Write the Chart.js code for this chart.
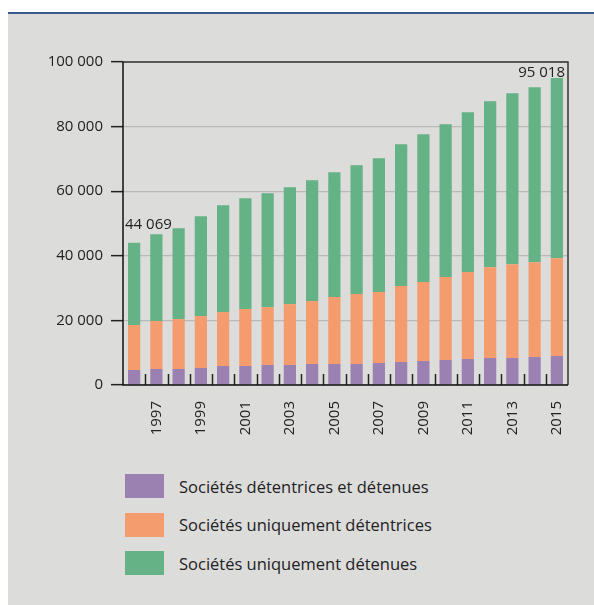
<!DOCTYPE html>
<html lang="fr">
<head>
<meta charset="utf-8">
<script src="https://cdn.jsdelivr.net/npm/chart.js@4/dist/chart.umd.min.js"></script>
<style>
  html, body { margin: 0; padding: 0; background: #fff; }
  body { width: 594px; height: 605px; position: relative; overflow: hidden; font-family: "Open Sans", sans-serif; }
  .topline { position: absolute; left: 8px; top: 12px; width: 586px; height: 2px; background: #3b5b8e; }
  .panel { position: absolute; left: 8px; top: 14px; width: 586px; height: 591px; background: #dcdcdb; }
  #chart { position: absolute; left: 8px; top: 14px; }
  .legend { position: absolute; left: 125px; top: 474px; }
  .legend-item { display: flex; align-items: center; height: 24px; margin-bottom: 14.5px; }
  .legend-item span.box { width: 39px; height: 24px; margin-right: 15px; }
  .legend-item span.txt { font-size: 16.5px; color: #222; }
</style>
</head>
<body>
<div class="topline"></div>
<div class="panel"></div>
<canvas id="chart" width="586" height="446"></canvas>
<div class="legend" id="legend"></div>

<script>
const years = [1996, 1997, 1998, 1999, 2000, 2001, 2002, 2003, 2004, 2005,
               2006, 2007, 2008, 2009, 2010, 2011, 2012, 2013, 2014, 2015];

const detentricesEtDetenues = [4640, 4950, 4950, 5260, 5880, 5880, 6190, 6190, 6500, 6500,
                               6500, 6800, 7110, 7420, 7730, 8040, 8350, 8350, 8660, 8970];
const uniquementDetentrices = [13920, 14840, 15460, 16080, 16700, 17630, 17930, 18860, 19480, 20720,
                               21640, 21960, 23510, 24440, 25670, 26910, 28140, 29070, 29380, 30310];
const uniquementDetenues = [25509, 26910, 28150, 30930, 33090, 34320, 35260, 36190, 37420, 38660,
                            39900, 41440, 43920, 45770, 47320, 49480, 51340, 52890, 54120, 55738];

const seriesNames = ['Sociétés détentrices et détenues', 'Sociétés uniquement détentrices', 'Sociétés uniquement détenues'];
const seriesColors = ['#9b80b2', '#f49c6e', '#66b287'];

const yTicks = [0, 20000, 40000, 60000, 80000, 100000];

const fmt = v => String(Math.round(v)).replace(/\B(?=(\d{3})+(?!\d))/g, ' ');

const totals = years.map((y, i) => detentricesEtDetenues[i] + uniquementDetentrices[i] + uniquementDetenues[i]);

// cadre, petits repères entre les barres et totaux de début / fin
const decorPlugin = {
  id: 'decor',
  afterDatasetsDraw(chart) {
    const { ctx, chartArea: a, scales: { x } } = chart;
    ctx.save();
    ctx.strokeStyle = '#222';
    ctx.lineWidth = 1.5;
    for (let i = 1; i < years.length; i++) {
      const px = Math.round((x.getPixelForValue(i - 1) + x.getPixelForValue(i)) / 2) + 0.5;
      ctx.beginPath();
      ctx.moveTo(px, a.bottom);
      ctx.lineTo(px, a.bottom - 11);
      ctx.stroke();
    }
    // cadre
    ctx.strokeStyle = '#333';
    ctx.beginPath();
    ctx.moveTo(a.left, a.top);
    ctx.lineTo(a.right, a.top);
    ctx.lineTo(a.right, a.bottom);
    ctx.stroke();
    ctx.strokeStyle = '#111';
    ctx.beginPath();
    ctx.moveTo(a.left, a.top);
    ctx.lineTo(a.left, a.bottom);
    ctx.lineTo(a.right, a.bottom);
    ctx.stroke();

    // totaux
    const meta = chart.getDatasetMeta(chart.data.datasets.length - 1);
    const first = meta.data[0];
    const last = meta.data[meta.data.length - 1];
    ctx.fillStyle = '#222';
    ctx.font = '15px "Open Sans", sans-serif';
    ctx.textBaseline = 'alphabetic';
    ctx.textAlign = 'left';
    ctx.fillText(fmt(totals[0]), first.x - first.width / 2 - 3, first.y - 14);
    ctx.textAlign = 'right';
    ctx.fillText(fmt(totals[totals.length - 1]), last.x + last.width / 2 + 2, last.y - 1);
    ctx.restore();
  }
};

const chart = new Chart(document.getElementById('chart'), {
  type: 'bar',
  data: {
    labels: years,
    datasets: [
      { label: seriesNames[0], data: detentricesEtDetenues, backgroundColor: seriesColors[0] },
      { label: seriesNames[1], data: uniquementDetentrices, backgroundColor: seriesColors[1] },
      { label: seriesNames[2], data: uniquementDetenues, backgroundColor: seriesColors[2] }
    ]
  },
  options: {
    responsive: false,
    animation: false,
    layout: { padding: { top: 48, right: 26, left: 0, bottom: 0 } },
    datasets: { bar: { barPercentage: 0.55, categoryPercentage: 1, borderWidth: 0 } },
    plugins: {
      legend: { display: false },
      tooltip: { enabled: false }
    },
    scales: {
      x: {
        stacked: true,
        grid: { display: false, drawTicks: false },
        border: { display: false },
        ticks: {
          autoSkip: false,
          minRotation: 90,
          maxRotation: 90,
          padding: 16,
          color: '#222',
          font: { family: '"Open Sans", sans-serif', size: 15 },
          callback: (v, i) => (years[i] % 2 === 1 ? String(years[i]) : '')
        },
        afterFit: s => { s.height = 75; }
      },
      y: {
        stacked: true,
        min: 0,
        max: 100000,
        afterBuildTicks: s => { s.ticks = yTicks.map(v => ({ value: v })); },
        grid: {
          color: '#b9b9b9',
          lineWidth: 1.3,
          drawTicks: true,
          tickLength: 12,
          tickColor: '#222',
          tickWidth: 1.5
        },
        border: { display: false },
        ticks: {
          padding: 8,
          color: '#222',
          font: { family: '"Open Sans", sans-serif', size: 15 },
          callback: v => fmt(v)
        },
        afterFit: s => { s.width = 115; }
      }
    }
  },
  plugins: [decorPlugin]
});

// légende verticale construite à partir des séries du graphique
const legendEl = document.getElementById('legend');
chart.data.datasets.forEach(ds => {
  const item = document.createElement('div');
  item.className = 'legend-item';
  item.innerHTML = `<span class="box" style="background:${ds.backgroundColor}"></span><span class="txt">${ds.label}</span>`;
  legendEl.appendChild(item);
});
</script>
</body>
</html>
